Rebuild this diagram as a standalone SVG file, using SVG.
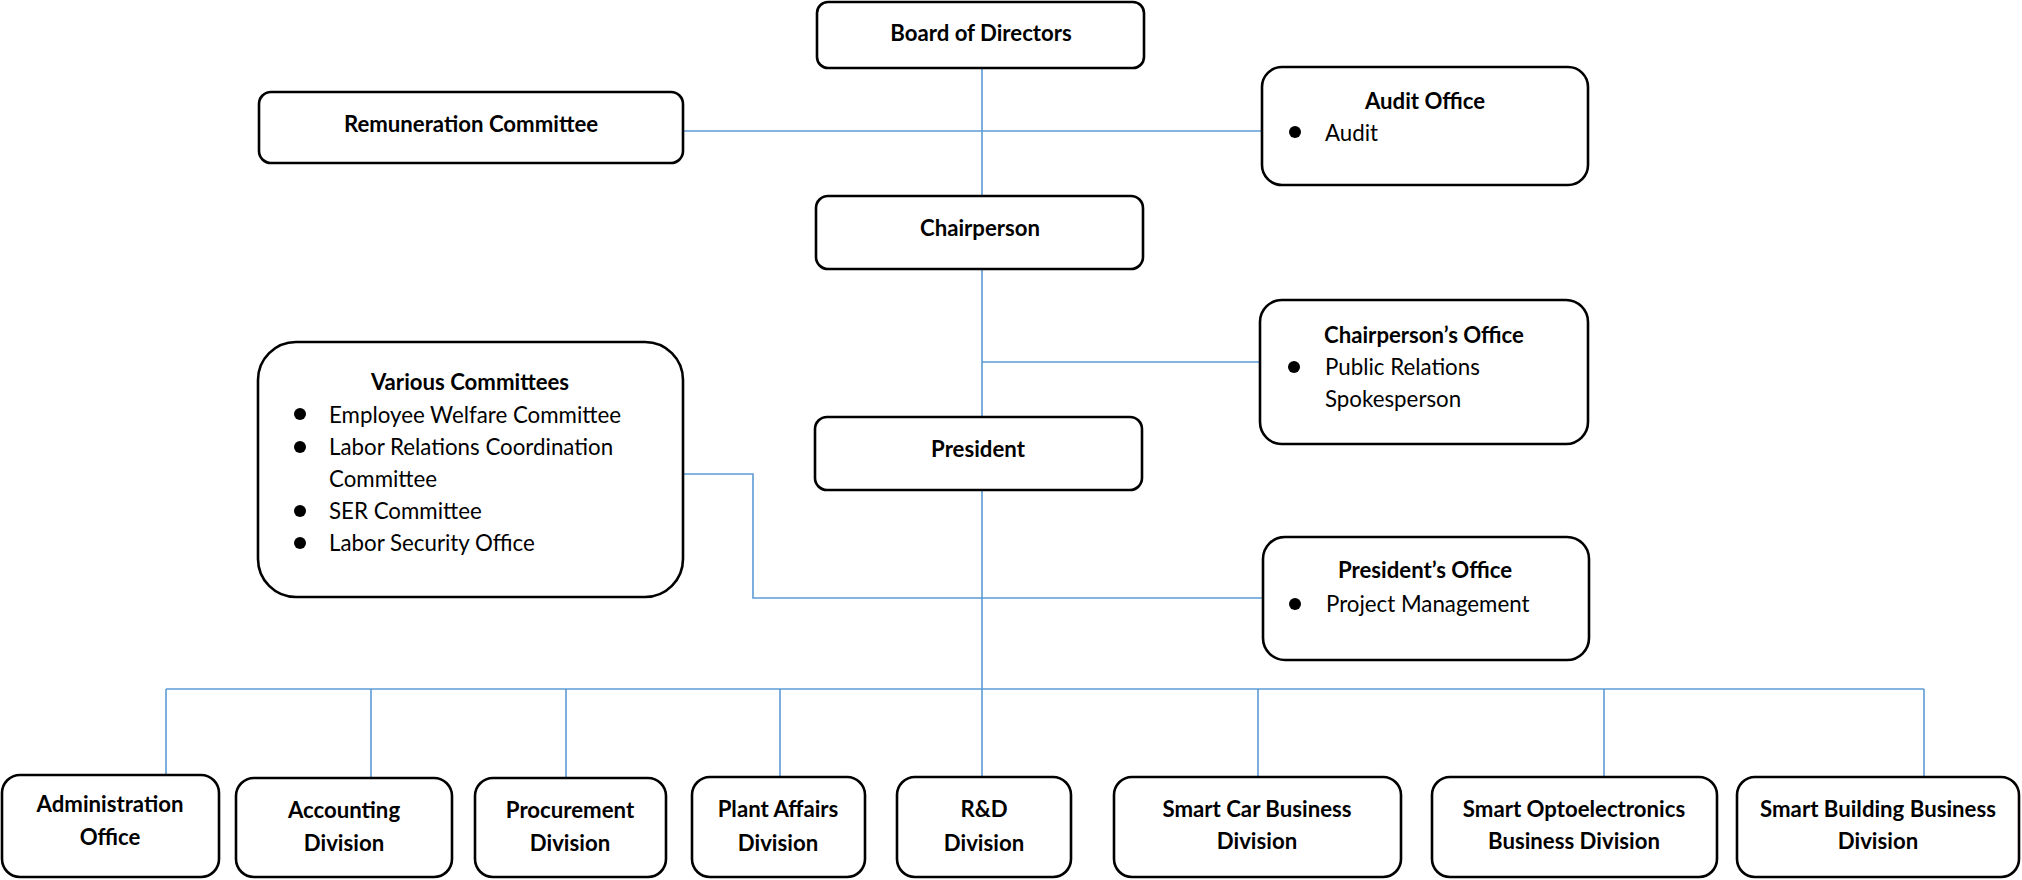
<svg xmlns="http://www.w3.org/2000/svg" width="2022" height="880" viewBox="0 0 2022 880">
<style>
.box{fill:#fff;stroke:#000;stroke-width:2.6}
.ln{fill:none;stroke:#5b9bd5;stroke-width:1.6}
.t{font-family:Lato,"Open Sans","Liberation Sans",sans-serif;font-size:22.3px;fill:#000}
.b{font-weight:bold;text-anchor:middle;font-size:22.2px}
.bul{fill:#000}
</style>
<rect width="2022" height="880" fill="#fff"/>
<g id="connectors">
<line class="ln" x1="982" y1="68" x2="982" y2="777"/>
<line class="ln" x1="683" y1="131" x2="1262" y2="131"/>
<line class="ln" x1="982" y1="362" x2="1260" y2="362"/>
<polyline class="ln" points="683,474 753,474 753,598 1263,598"/>
<line class="ln" x1="166" y1="689" x2="1924" y2="689"/>
<line class="ln" x1="166" y1="689" x2="166" y2="775"/>
<line class="ln" x1="371" y1="689" x2="371" y2="778"/>
<line class="ln" x1="566" y1="689" x2="566" y2="778"/>
<line class="ln" x1="780" y1="689" x2="780" y2="777"/>
<line class="ln" x1="1258" y1="689" x2="1258" y2="777"/>
<line class="ln" x1="1604" y1="689" x2="1604" y2="777"/>
<line class="ln" x1="1924" y1="689" x2="1924" y2="777"/>
</g>
<g id="board">
<rect class="box" x="817" y="2" width="327" height="66" rx="11"/>
<text class="t b" x="981" y="41">Board of Directors</text>
</g>
<g id="remuneration">
<rect class="box" x="259" y="92" width="424" height="71" rx="12"/>
<text class="t b" x="471" y="132">Remuneration Committee</text>
</g>
<g id="audit">
<rect class="box" x="1262" y="67" width="326" height="118" rx="20"/>
<text class="t b" x="1425" y="109">Audit Office</text>
<circle class="bul" cx="1295" cy="132" r="6"/>
<text class="t" x="1325" y="141">Audit</text>
</g>
<g id="chairperson">
<rect class="box" x="816" y="196" width="327" height="73" rx="12"/>
<text class="t b" x="980" y="236">Chairperson</text>
</g>
<g id="chairperson-office">
<rect class="box" x="1260" y="300" width="328" height="144" rx="22"/>
<text class="t b" x="1424" y="343">Chairperson’s Office</text>
<circle class="bul" cx="1294" cy="367" r="6"/>
<text class="t" x="1325" y="375">Public Relations</text>
<text class="t" x="1325" y="407">Spokesperson</text>
</g>
<g id="various">
<rect class="box" x="258" y="342" width="425" height="255" rx="38"/>
<text class="t b" x="470" y="390">Various Committees</text>
<circle class="bul" cx="300" cy="414" r="6"/>
<text class="t" x="329" y="423">Employee Welfare Committee</text>
<circle class="bul" cx="300" cy="447" r="6"/>
<text class="t" x="329" y="455">Labor Relations Coordination</text>
<text class="t" x="329" y="487">Committee</text>
<circle class="bul" cx="300" cy="511" r="6"/>
<text class="t" x="329" y="519">SER Committee</text>
<circle class="bul" cx="300" cy="543" r="6"/>
<text class="t" x="329" y="551">Labor Security Office</text>
</g>
<g id="president">
<rect class="box" x="815" y="417" width="327" height="73" rx="12"/>
<text class="t b" x="978" y="457">President</text>
</g>
<g id="president-office">
<rect class="box" x="1263" y="537" width="326" height="123" rx="22"/>
<text class="t b" x="1425" y="578">President’s Office</text>
<circle class="bul" cx="1295" cy="604" r="6"/>
<text class="t" x="1326" y="612">Project Management</text>
</g>
<g id="administration">
<rect class="box" x="2" y="775" width="217" height="102" rx="18"/>
<text class="t b" x="110" y="812">Administration</text>
<text class="t b" x="110" y="845">Office</text>
</g>
<g id="accounting">
<rect class="box" x="236" y="778" width="216" height="99" rx="18"/>
<text class="t b" x="344" y="818">Accounting</text>
<text class="t b" x="344" y="851">Division</text>
</g>
<g id="procurement">
<rect class="box" x="475" y="778" width="191" height="99" rx="18"/>
<text class="t b" x="570" y="818">Procurement</text>
<text class="t b" x="570" y="851">Division</text>
</g>
<g id="plant">
<rect class="box" x="692" y="777" width="173" height="100" rx="18"/>
<text class="t b" x="778" y="817">Plant Affairs</text>
<text class="t b" x="778" y="851">Division</text>
</g>
<g id="rd">
<rect class="box" x="897" y="777" width="174" height="100" rx="18"/>
<text class="t b" x="984" y="817">R&amp;D</text>
<text class="t b" x="984" y="851">Division</text>
</g>
<g id="smart-car">
<rect class="box" x="1114" y="777" width="287" height="100" rx="18"/>
<text class="t b" x="1257" y="817">Smart Car Business</text>
<text class="t b" x="1257" y="849">Division</text>
</g>
<g id="smart-opto">
<rect class="box" x="1432" y="777" width="285" height="100" rx="18"/>
<text class="t b" x="1574" y="817">Smart Optoelectronics</text>
<text class="t b" x="1574" y="849">Business Division</text>
</g>
<g id="smart-building">
<rect class="box" x="1737" y="777" width="282" height="100" rx="18"/>
<text class="t b" x="1878" y="817">Smart Building Business</text>
<text class="t b" x="1878" y="849">Division</text>
</g>
</svg>
